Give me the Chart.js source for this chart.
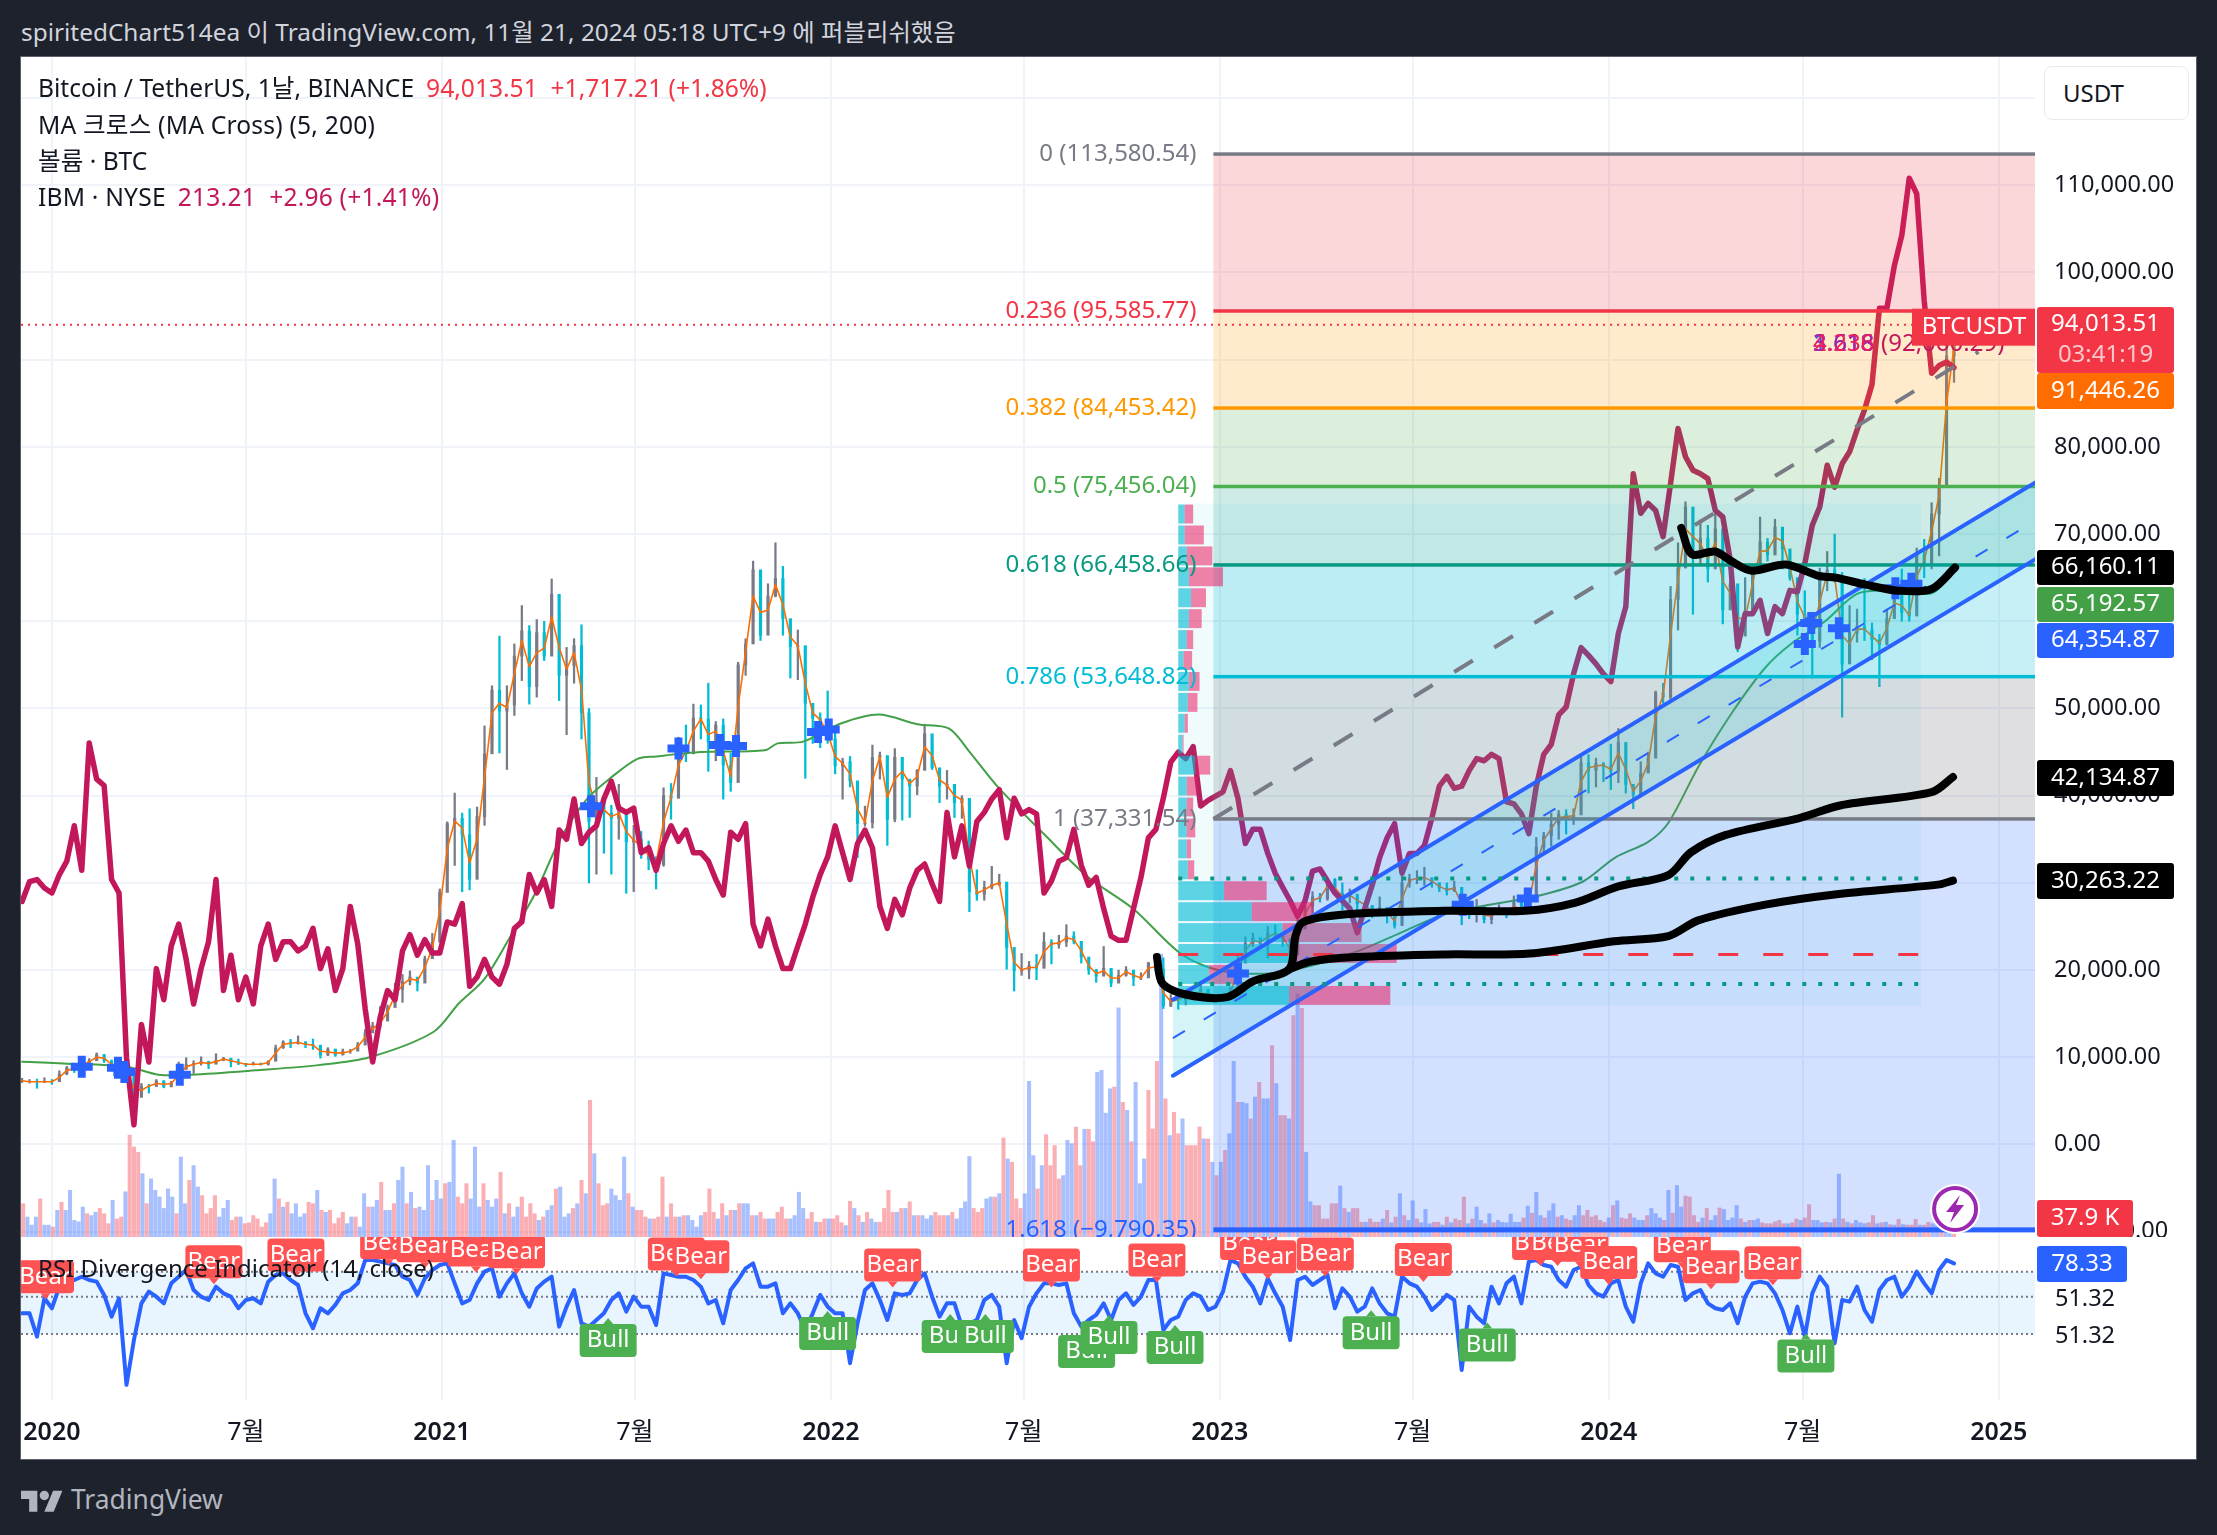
<!DOCTYPE html>
<html lang="ko">
<head>
<meta charset="UTF-8">
<title>BTCUSDT 1D</title>
<script src="https://cdn.jsdelivr.net/npm/chart.js"></script>
<style>
	html, body { margin: 0; padding: 0; background: #1e222d; }
	body { width: 2217px; height: 1535px; position: relative; overflow: hidden; font-family: "Noto Sans", "Noto Sans CJK KR", sans-serif; }
	#title { position: absolute; left: 21px; top: 14px; font-size: 24.4px; line-height: 36px; color: #d1d4dc; white-space: nowrap; }
	#panel { position: absolute; left: 21px; top: 57px; width: 2175px; height: 1402px; background: #fff; box-shadow: 0 0 0 1px #5d606b; }
	#priceCanvas { position: absolute; left: 21px; top: 57px; }
	#rsiCanvas { position: absolute; left: 21px; top: 1237px; }
	.legend { position: absolute; left: 38px; font-size: 24.6px; line-height: 36px; color: #131722; white-space: nowrap; }
	.legend b { font-weight: 400; margin-left: 12px; }
	#usdt { position: absolute; left: 2044px; top: 66px; width: 143px; height: 52px; border: 1px solid #e8eaf0; border-radius: 8px; background: #fff; font-size: 24px; line-height: 52px; color: #131722; text-indent: 18px; }
	#footer { position: absolute; left: 21px; top: 1483px; color: #b2b5be; font-size: 26.4px; line-height: 32px; }
	#footer svg { position: absolute; left: 0; top: 3px; }
	#footer span { position: absolute; left: 50px; top: 0; }
</style>
</head>
<body>
<div id="title">spiritedChart514ea 이 TradingView.com, 11월 21, 2024 05:18 UTC+9 에 퍼블리쉬했음</div>
<div id="panel"></div>
<canvas id="priceCanvas" width="2175" height="1180"></canvas>
<canvas id="rsiCanvas" width="2175" height="222"></canvas>
<div class="legend" style="top:70px">Bitcoin / TetherUS, 1날, BINANCE<b style="color:#f23645">94,013.51&nbsp; +1,717.21 (+1.86%)</b></div>
<div class="legend" style="top:107px;letter-spacing:.2px">MA 크로스 (MA Cross) (5, 200)</div>
<div class="legend" style="top:143px">볼륨 · BTC</div>
<div class="legend" style="top:179px;letter-spacing:.2px">IBM · NYSE<b style="color:#c2185b">213.21&nbsp; +2.96 (+1.41%)</b></div>
<div id="usdt">USDT</div>
<div id="footer">
	<svg width="42" height="26" viewBox="0 0 36 22" fill="#b2b5be"><path d="M14 22H7V11H0V4h14v18zM28 22h-8l7.5-18h8L28 22z"/><circle cx="20" cy="8" r="4"/></svg>
	<span>TradingView</span>
</div>

<script>
// x values are days counted from 2020-01-01, prices are in thousands of USDT
const tickDays = [0, 182, 366, 547, 731, 912, 1096, 1277, 1461, 1643, 1827];
const tickLabels = ['2020', '7월', '2021', '7월', '2022', '7월', '2023', '7월', '2024', '7월', '2025'];
const priceGrid = [120, 110, 100, 90, 80, 70, 60, 50, 40, 30, 20, 10, 0, -10];
const priceHidden = [120, 90, 60, 30];

// weekly samples
const btcClose = [
7.20,7.22,7.15,7.25,7.20,8.05,8.80,8.65,9.35,9.60,
10.30,9.60,8.80,8.75,7.90,5.40,6.70,6.65,7.30,6.65,
7.10,8.65,9.15,9.30,9.50,9.20,9.65,9.90,9.45,9.30,
9.15,9.25,9.20,9.55,11.10,11.75,11.55,11.75,11.45,11.40,
10.25,10.95,10.25,10.70,10.70,11.40,12.80,13.60,14.15,15.70,
17.80,18.70,19.20,18.50,21.30,23.20,28.90,36.80,37.40,35.50,
30.40,37.60,44.80,52.10,49.70,50.40,56.00,58.90,52.50,58.70,
56.00,63.10,53.80,54.90,57.20,49.50,37.00,39.30,38.00,37.40,
38.30,34.70,35.00,33.80,32.70,32.10,40.00,39.70,45.60,44.80,
48.90,48.80,46.10,48.10,43.50,41.50,55.00,57.40,65.90,58.40,
62.90,64.90,60.30,57.10,57.20,50.60,48.90,48.60,46.50,43.40,
43.90,41.70,36.80,36.90,44.40,44.60,37.30,44.40,41.90,41.10,
42.90,47.10,43.20,41.10,41.30,39.20,39.70,29.00,28.70,29.50,
29.80,30.10,22.60,19.90,20.00,20.50,20.20,23.20,22.90,23.20,
23.90,23.30,21.50,20.00,19.30,20.20,18.50,19.40,20.00,19.10,
19.10,20.80,20.10,15.90,16.70,16.60,17.20,16.80,17.80,16.80,
16.55,16.85,17.95,20.80,23.05,23.70,22.95,24.30,24.20,23.60,
21.70,24.70,27.30,28.40,28.20,30.40,28.80,28.40,28.70,27.60,
27.40,26.30,27.20,26.50,25.10,30.00,30.50,30.50,30.60,30.00,
29.40,29.10,29.50,26.50,26.30,27.30,25.80,26.50,27.00,26.50,
27.80,26.50,28.40,34.10,35.40,36.70,37.90,37.40,37.80,43.80,
42.90,43.70,43.40,42.80,46.10,41.30,40.10,42.60,44.30,51.80,
51.30,62.50,66.10,73.10,67.80,69.50,66.00,70.60,61.30,64.30,
58.30,61.20,66.20,69.10,67.60,70.80,68.30,65.00,60.80,60.20,
57.70,64.80,65.90,64.60,55.10,58.70,59.40,59.00,57.90,57.30,
60.30,63.10,61.00,60.60,67.60,66.60,72.30,75.60,90.40,94.01351];

const btcHigh = [
7.60,7.45,7.50,7.65,7.45,8.45,8.95,8.95,9.60,9.85,
10.50,10.30,9.70,9.20,8.20,8.00,7.00,6.90,7.45,7.30,
7.25,9.45,9.95,9.60,10.05,9.55,10.40,10.00,9.60,9.80,
9.30,9.45,9.35,9.60,11.40,11.90,12.05,12.45,11.80,12.10,
10.50,11.10,10.90,10.95,10.90,11.70,13.20,14.00,15.80,16.00,
18.50,19.50,19.90,19.00,21.60,24.20,29.30,37.00,40.30,38.00,
38.50,38.70,48.00,52.60,58.30,52.60,57.40,61.80,59.50,60.20,
60.00,64.85,61.00,57.00,58.00,59.60,50.00,42.10,39.50,38.90,
41.30,36.00,36.60,35.90,34.80,33.00,40.90,41.40,46.70,48.10,
50.50,50.40,52.90,48.50,48.80,44.90,55.30,58.00,66.90,63.70,
64.30,69.00,66.30,59.50,59.00,53.00,50.50,49.50,52.00,47.50,
44.30,44.50,38.90,38.80,45.80,45.00,40.50,45.40,42.60,41.70,
43.00,48.20,46.00,43.00,42.90,41.00,40.00,36.00,31.50,30.20,
31.90,31.00,29.00,21.60,21.90,21.00,21.80,24.30,23.50,24.00,
25.20,24.40,21.90,20.80,20.10,22.70,19.70,20.00,20.40,19.30,
19.70,20.90,20.80,21.40,17.20,16.70,17.30,17.40,18.40,16.95,
16.80,16.95,18.00,21.60,23.80,24.25,23.40,25.00,25.20,24.00,
22.60,26.50,28.80,29.00,28.80,30.60,30.50,30.00,29.30,28.30,
27.50,27.40,28.40,27.10,26.20,30.80,31.00,31.40,31.80,30.40,
30.00,30.00,30.20,29.30,26.80,28.10,26.10,27.00,27.50,26.80,
28.50,28.00,28.60,35.20,35.80,38.00,38.30,38.40,38.50,44.40,
44.70,44.30,43.80,45.90,47.70,43.50,41.00,43.90,45.00,52.00,
52.90,64.00,69.00,73.70,68.00,71.60,71.00,72.80,66.00,67.30,
63.50,65.00,66.50,71.95,69.50,71.70,70.00,67.00,62.50,63.50,
58.80,66.10,68.00,70.00,65.60,61.80,61.40,64.90,59.80,58.50,
61.40,64.80,66.00,64.50,68.40,69.40,73.60,76.40,93.30,94.90];

const btcLow = [
7.10,7.05,6.45,7.10,6.90,7.70,8.00,8.25,8.60,9.10,
9.70,9.40,8.50,8.40,7.60,3.80,5.70,5.90,6.70,6.50,
6.60,7.10,8.60,8.15,9.10,8.70,9.30,9.60,8.90,9.15,
8.95,9.10,9.10,9.10,9.60,11.00,11.10,11.50,11.10,10.90,
9.90,10.20,10.10,10.50,10.45,11.20,11.85,12.90,13.30,14.80,
16.00,16.30,18.30,17.60,19.30,22.00,26.80,31.00,32.00,29.00,
29.20,33.50,36.60,46.00,44.90,43.00,49.20,53.20,50.50,51.30,
55.50,58.00,50.90,47.00,52.90,46.50,30.00,31.00,33.40,31.00,
35.00,28.80,29.00,32.80,31.50,29.30,31.90,37.30,39.90,43.90,
46.40,46.50,42.80,44.00,39.60,40.50,42.80,53.80,59.90,57.80,
59.50,62.80,58.40,53.50,53.30,42.00,46.00,45.50,46.00,42.50,
39.60,41.00,32.90,36.50,36.30,41.90,34.30,37.00,37.20,37.50,
40.10,44.20,43.00,39.20,39.60,37.50,37.40,26.70,28.00,28.00,
29.30,29.70,20.10,17.60,19.40,19.00,18.90,20.50,20.70,22.50,
22.70,23.00,20.80,19.50,18.60,19.60,18.10,18.60,19.30,18.20,
18.90,19.90,19.90,15.60,15.80,15.50,16.00,16.70,17.20,16.40,
16.30,16.50,16.90,17.90,22.30,22.70,22.70,21.40,23.60,22.70,
19.60,23.90,26.60,26.60,27.80,28.00,28.70,26.90,27.70,26.80,
26.50,26.00,26.70,25.40,24.80,26.50,29.50,29.90,29.70,29.50,
29.00,28.60,29.00,25.20,25.90,25.50,25.40,25.30,26.40,26.00,
27.00,26.50,26.70,30.00,33.40,34.20,35.00,35.60,36.70,38.50,
40.30,41.00,41.60,40.70,41.50,40.30,38.50,41.60,42.70,48.50,
50.60,51.00,59.00,68.50,60.80,66.40,64.50,68.00,59.70,62.80,
56.50,60.70,61.00,66.70,66.90,68.50,66.00,64.70,58.40,59.60,
53.50,57.00,63.50,64.50,49.00,56.00,57.60,57.80,55.60,52.50,
57.50,61.50,60.00,60.00,62.00,65.00,66.00,67.50,76.70,87.40];

const ma5Values = [
7.3,7.2,7.2,7.2,7.2,7.7,8.5,8.7,9.1,9.5,
10.0,9.9,9.2,8.8,8.2,6.5,6.2,6.7,7.0,6.9,
7.0,8.0,8.9,9.2,9.4,9.3,9.5,9.8,9.6,9.4,
9.2,9.2,9.2,9.4,10.5,11.5,11.6,11.7,11.5,11.4,
10.7,10.6,10.5,10.5,10.7,11.2,12.3,13.3,13.9,15.2,
17.1,18.3,19.0,18.8,20.3,22.5,26.8,33.9,37.1,36.3,
32.3,35.0,42.1,49.5,50.6,50.1,54.0,57.8,54.8,56.4,
56.9,60.5,57.0,54.5,56.4,52.2,41.5,38.5,38.4,37.6,
38.0,35.9,34.9,34.2,33.1,32.3,37.0,39.8,43.5,45.1,
47.4,48.8,47.0,47.4,45.1,42.2,50.2,56.5,62.9,61.0,
61.3,64.2,61.9,58.2,57.2,52.9,49.5,48.7,47.2,44.5,
43.7,42.5,38.5,36.9,41.7,44.5,39.8,41.9,42.8,41.4,
42.2,45.6,44.6,41.8,41.2,40.0,39.5,32.8,28.8,29.2,
29.7,30.0,25.3,20.9,20.0,20.3,20.3,22.1,23.0,23.1,
23.7,23.5,22.2,20.5,19.6,19.9,19.1,19.1,19.8,19.4,
19.1,20.2,20.4,17.4,16.4,16.6,17.0,17.0,17.4,17.2,
16.6,16.7,17.5,19.8,22.2,23.4,23.2,23.8,24.2,23.8,
22.4,23.6,26.4,28.0,28.3,29.6,29.4,28.5,28.6,28.0,
27.5,26.7,26.9,26.7,25.6,28.2,30.3,30.5,30.6,30.2,
29.6,29.2,29.4,27.6,26.4,26.9,26.3,26.2,26.8,26.7,
27.3,27.0,27.7,32.0,34.9,36.2,37.5,37.6,37.7,41.6,
43.2,43.4,43.5,43.0,44.9,43.0,40.5,41.7,43.7,49.1,
51.5,58.4,64.8,70.6,69.7,68.9,67.2,69.0,64.6,63.2,
60.4,60.2,64.4,68.0,68.1,69.6,69.2,66.2,62.3,60.4,
58.6,62.2,65.5,65.1,58.4,57.4,59.1,59.1,58.3,57.5,
59.2,62.1,61.8,60.7,65.1,67.0,70.3,74.4,85.0,91.44626];

// IBM in USD, on its own hidden scale
const ibmClose = [
137.7,140.5,140.8,139.6,138.9,141.5,143.4,148.4,142.1,160.1,
155,154.1,140.8,138.9,115.6,106.1,120.3,115,128.2,123.8,
131.4,134.5,129.5,123.2,128.2,132,140.8,125.1,130.1,123.8,
127,123.2,131.4,134.5,129.5,132,132,130.7,131.4,133.9,
128.2,131,125.1,128.2,137,131.7,122.5,115,121.3,125.1,
123.8,130.7,133,130.1,132.3,130.4,130.4,134.8,134.5,137.4,
125.7,127,129.5,127,126,128.8,133.9,134.8,141.5,138.9,
140.8,137,147.8,146.5,152.2,145.9,147.5,148.4,152.2,154.7,
150.9,150.3,150.9,144.6,145.3,142.1,145.9,148.4,146.2,147.8,
144.6,144.6,143.4,140.8,138.6,147.5,146.5,148.7,134.5,131.4,
135.2,131.4,128.2,128.2,131.4,134.5,138.3,141.5,144,148.4,
144.6,140.8,145.9,147.8,145.3,137,133.9,138,135.8,139.6,
142.1,143,140.2,137.7,150.3,144,148.4,142.7,149,150.3,
152.2,153.5,146.7,152.3,150.1,150.7,150.1,138.9,140.6,143.4,
143.9,147.9,142.8,140,141.1,136.7,132.8,132.2,132.2,136.7,
141.1,146.7,147.9,152.3,157.4,158.8,157.9,159.6,151.2,152,
152.6,153.2,156.2,152.3,145.9,147.9,147.9,144.5,141.7,139.7,
137.8,135.6,137.8,142,142.3,140.6,138.9,137.8,136.7,133.3,
136.7,140,143.9,146.7,148.7,141.7,144.5,144.5,145.6,149.5,
154,155.4,153.7,154,156.2,157.9,157.6,158.5,157.9,151.8,
151.5,150.1,147.3,154,158.5,159.9,164.1,165.2,169.9,173.6,
172.5,171.3,169.9,168.8,175.6,179.4,198.2,192.6,194,193,
189.3,196.8,204.6,200.6,198.7,198.2,197.5,193,192.1,186,
173.7,178.4,178.4,180.3,175.6,179.4,178.4,181.7,181.5,185.5,
190.9,193.5,199.4,196.3,199.6,201.3,204.4,207.2,210.8,221.6,
221.6,227.6,231.9,240,237.8,222.7,212.4,213.5,214,213.21];

const rsiValues = [
37.8,37.8,18.9,50,41.9,59.4,64.8,64.8,67.5,64.8,
63.5,52.7,35.1,50,-20.2,16.2,45.9,55.4,51.3,45.9,
62.1,67.5,72.9,56.7,51.3,48.6,59.4,54,51.3,41.9,
48.6,50,45.9,63.5,68.9,70.2,64.8,60.8,37.8,25.7,
41.9,37.8,44.6,54,56.7,62.1,81,81,79.7,78.3,
77,67.5,64.8,52.7,66.2,72.9,77,78.3,62.1,45.9,
48.6,62.1,71.6,74.3,51.3,62.1,70.2,54,43.2,58,
63.5,67.5,27,43.2,56.7,29.7,27,32.4,37.8,48.6,
54,39.2,51.3,43.2,43.2,28.3,70.2,68.9,67.5,67.5,
64.8,59.4,45.9,48.6,29.7,56.7,64.8,74.3,78.3,59.4,
59.4,62.1,37.8,45.9,37.8,24.3,37.8,52.7,43.2,37.8,
37.8,-2.7,29.7,56.7,62.1,48.6,32.4,54,52.7,54,
64.8,70.2,51.3,35.1,45.9,45.9,27,29.7,32.4,48.6,
52.7,43.2,-2.7,32.4,17.6,43.2,54,62.1,62.1,60.8,
62.1,37.8,27,32.4,36.5,45.9,32.4,48.6,54,44.6,
51.3,64.8,64.8,24.3,32.4,35.1,48.6,54,51.3,40.5,
43.2,55.4,81,78.3,67.5,59.4,45.9,66.2,54,43.2,
16.2,64.8,67.5,60.8,64.8,68.9,41.9,58,51.3,39.2,
43.2,58,45.9,37.8,35.1,67.5,62.1,59.4,51.3,40.5,
45.9,52.7,48.6,-8.1,43.2,35.1,29.7,59.4,45.9,62.1,
67.5,45.9,79.7,81,77,75.6,64.8,59.4,72.9,75.6,
60.8,54,51.3,62.1,64.8,43.2,31,62.1,78.3,70.2,
67.5,77,75.6,48.6,54,56.7,45.9,41.9,40.5,45.9,
29.7,51.3,62.1,63.5,62.1,54,40.5,21.6,43.2,18.9,
54,67.5,59.4,13.5,48.6,47.3,59.4,40.5,31,56.7,
64.8,67.5,51.3,59.4,71.6,62.1,54,72.9,81,78.33];

// volume in thousands of BTC, one sample every four days
const volumeValues = [
70,42,25,42,80,25,25,21,56,73,56,98,35,32,63,49,45,52,60,49,
28,77,38,42,95,214,189,178,133,70,122,98,84,60,101,84,49,168,70,119,
150,105,87,49,60,87,42,60,77,35,42,42,28,30,45,38,21,30,49,122,
80,63,73,49,70,42,49,73,70,98,56,52,56,28,40,52,28,42,42,21,
91,63,63,77,115,56,56,70,119,147,70,94,60,63,56,150,77,119,80,112,
115,203,84,70,112,80,189,63,112,77,63,80,136,49,70,42,63,84,42,70,
49,35,42,56,66,101,105,42,49,60,70,119,91,287,175,112,66,70,101,87,
77,168,91,63,56,56,42,38,38,42,126,42,70,42,42,45,45,35,21,45,
52,101,52,38,70,45,56,56,70,70,70,45,45,52,38,38,38,52,63,38,
38,45,94,60,38,52,31,31,38,38,38,45,30,24,75,60,45,31,52,38,
31,31,60,98,52,52,60,60,74,45,45,45,38,45,52,45,45,45,52,38,
60,74,169,60,52,60,80,84,84,91,208,164,157,80,60,91,327,171,101,150,
215,150,192,122,129,203,196,231,150,226,226,200,346,350,260,311,315,481,283,266,
200,325,112,164,308,227,369,594,290,213,262,217,248,192,192,192,231,206,206,157,
129,157,182,217,369,283,283,280,248,294,325,290,290,402,322,255,255,248,465,510,
480,178,74,66,66,38,38,70,70,107,60,52,60,60,31,31,38,31,31,38,
56,30,42,91,45,35,76,38,30,58,28,31,31,25,42,30,38,35,84,28,
38,63,35,28,49,30,35,31,30,48,31,31,40,65,50,94,45,40,55,70,
42,45,38,35,45,66,45,56,42,45,35,31,40,66,76,40,38,49,40,35,
35,45,60,49,40,35,98,50,108,63,86,84,45,31,40,60,35,45,61,58,
35,40,66,38,31,35,35,38,30,28,28,32,35,28,28,30,38,35,40,68,
35,35,30,31,30,38,132,38,31,28,35,30,28,30,45,28,30,31,26,25,
37,26,25,25,37,25,25,31,28,25,30,30,28,37.9];

const ma200Days = [-28,11,71,100,131,191,250,298,358,382,406,430,454,477,502,525,549,567,609,669,681,705,741,776,812,842,860,887,931,972,1015,1057,1086,1119,1161,1224,1266,1307,1349,1391,1436,1467,1498,1517,1545,1576,1608,1632,1664,1695,1733,1764,1782];
const ma200Values = [9.5,9.3,8.9,8.0,8.0,8.5,9.1,10,12.9,16.2,19,23.8,28.9,35,39.6,42.1,44.2,44.5,45,45.2,46,46.2,48.3,49.3,48.2,47.7,45.2,41.1,35.6,30.7,27,22.1,20.3,19.6,19.9,22.1,24.3,26.4,27.5,28.4,30.1,32.9,34.7,36.9,43.3,49.4,54.7,57.4,60,63.2,63.5,63.2,65.19257];

const crossDays = [28,62,68,120,506,588,627,642,719,729,1113,1324,1385,1645,1651,1677,1730,1745];
const crossValues = [8.9,8.8,8.3,8.0,38.8,45.4,45.8,45.7,47.3,47.6,19.6,27.5,28.2,57.4,59.8,59.2,63.8,64.3];

const blackTopDays = [1529,1539,1561,1576,1595,1627,1658,1674,1702,1733,1764,1786];
const blackTopValues = [70.7,67.7,68,66.9,65.8,66.5,65.2,65,64.2,63.5,63.7,66.16011];
const blackMidDays = [1037,1042,1064,1103,1127,1161,1167,1174,1215,1307,1383,1429,1470,1517,1538,1571,1639,1679,1764,1784];
const blackMidValues = [21.5,18.5,17.2,16.9,18.7,20.1,23.9,25.5,26.4,26.8,26.8,27.7,29.6,30.9,33.5,35.5,37.4,38.9,40.4,42.13487];
const blackLowDays = [1161,1182,1224,1307,1387,1466,1517,1545,1608,1675,1770,1784];
const blackLowValues = [20.1,21,21.5,21.8,21.9,23.3,23.9,25.7,27.5,28.7,29.8,30.26322];

// regression channel and the fib trend line, end points only
const channelDays = [1052, 1861];
const channelUpper = [16.6, 75.9];
const channelMiddle = [12.2, 71.5];
const channelLower = [7.88, 67.1];
const trendDays = [1090, 1808];
const trendValues = [37.33154, 90.9];

const fibLevels = [0, 0.236, 0.382, 0.5, 0.618, 0.786, 1, 1.618];
const fibPrices = [113.58054, 95.58577, 84.45342, 75.45604, 66.45866, 53.64882, 37.33154, -9.79035];
const fibStartDay = 1090;
const fibLabels = ['0 (113,580.54)', '0.236 (95,585.77)', '0.382 (84,453.42)', '0.5 (75,456.04)', '0.618 (66,458.66)', '0.786 (53,648.82)', '1 (37,331.54)', '1.618 (−9,790.35)'];
const fibLineColors = ['#787b86', '#f23645', '#ff9800', '#4caf50', '#089981', '#00bcd4', '#787b86', '#2962ff'];
const fibLineWidths = [3.5, 3.5, 3.5, 3.5, 3.5, 3.5, 3.5, 5];
const fibBandColors = ['rgba(242,54,69,.2)', 'rgba(255,152,0,.2)', 'rgba(76,175,80,.2)', 'rgba(8,153,129,.2)', 'rgba(0,188,212,.22)', 'rgba(120,123,134,.24)', 'rgba(41,98,255,.2)'];

// fixed range volume profile, rows from the top of the range down
const profileStartDay = 1057;
const profileEndDay = 1754;
const profileTop = 73.5;
const profileRowSize = 2.4;
const profileUp = [6,6,8,10,12,10,8,5,10,9,6,4,16,8,8,8,8,9,43,69,98,104,29,104];
const profileDown = [8,18,24,32,14,12,6,8,10,9,3,1,14,10,6,8,4,6,40,58,74,101,25,95];
const profileHigh = 30.5;
const profileLow = 18.4;
const profilePoc = 21.8;

// RSI pane
const rsiBands = [71.6, 51.32, 21.05];
const bearDays = [-6,152,229,316,350,398,436,586,609,789,938,1037,1123,1141,1195,1287,1397,1413,1434,1461,1530,1557,1615];
const bearValues = [67.5,79.7,85,95,92.6,89.1,87.8,85.9,83.7,77,77,81,94.5,83.7,85.9,81.5,94.5,94.5,93.1,79.1,92.6,75.6,78.8];
const bullDays = [522,728,843,876,971,992,1054,1238,1347,1646];
const bullValues = [15.7,21.4,18.9,18.9,6.8,18.1,10,22.1,12.2,3.2];

const basisPrice = 64.35487;
const lastVolumeText = '37.9 K';

const weekDays = btcClose.map((_, i) => -28 + 7 * i);
const volumeDays = volumeValues.map((_, i) => -27 + 4 * i);
const pairs = (xs, ys) => xs.map((x, i) => ({ x: x, y: ys[i] }));
const last = arr => arr[arr.length - 1];
const money = k => (k * 1000).toLocaleString('en-US', { minimumFractionDigits: 2, maximumFractionDigits: 2 });

const FONT = '"Noto Sans", "Noto Sans CJK KR", sans-serif';
const CANDLE_UP = '#787b86';
const CANDLE_DOWN = '#00bcd4';

// the library reserves room for half a tick label at the ends, the panes here run edge to edge
function noScalePadding(s) {
	s.paddingLeft = s.paddingRight = s.paddingTop = s.paddingBottom = 0;
}

function weekRising(i) {
	return i === 0 || btcClose[i] >= btcClose[i - 1];
}

// bars follow the direction of their week, every third one goes against it like the daily bars do
function volumeColor(ctx) {
	const wk = Math.max(0, Math.min(btcClose.length - 1, Math.round((volumeDays[ctx.dataIndex] + 28) / 7)));
	const up = ctx.dataIndex % 3 === 0 ? !weekRising(wk) : weekRising(wk);
	return up ? 'rgba(41,98,255,.4)' : 'rgba(242,54,69,.4)';
}

function drawTag(c, text, x, top, w, h, color, textColor) {
	c.fillStyle = color;
	c.beginPath();
	c.roundRect(x, top, w, h, 3);
	c.fill();
	c.fillStyle = textColor || '#fff';
	c.font = '24px ' + FONT;
	c.textAlign = 'center';
	c.textBaseline = 'middle';
	c.fillText(text, x + w / 2, top + h / 2);
}

// everything in here sits on top of the price lines but below the channel
function drawFibAndProfile(chart) {
	const c = chart.ctx;
	const xs = chart.scales.x, ys = chart.scales.y;
	const area = chart.chartArea;
	const left = xs.getPixelForValue(fibStartDay);
	c.save();
	c.beginPath();
	c.rect(area.left, area.top, area.right - area.left, area.bottom - area.top);
	c.clip();

	for (let i = 0; i < fibBandColors.length; i++) {
		const y0 = ys.getPixelForValue(fibPrices[i]);
		const y1 = ys.getPixelForValue(fibPrices[i + 1]);
		c.fillStyle = fibBandColors[i];
		c.fillRect(left, y0, area.right - left, y1 - y0);
	}

	// profile background, then rows
	const pLeft = xs.getPixelForValue(profileStartDay);
	const pRight = xs.getPixelForValue(profileEndDay);
	const pTop = ys.getPixelForValue(profileTop);
	const pBottom = ys.getPixelForValue(profileTop - profileRowSize * profileUp.length);
	c.fillStyle = 'rgba(0,188,212,.06)';
	c.fillRect(pLeft, pTop, pRight - pLeft, pBottom - pTop);
	profileUp.forEach((up, i) => {
		const y0 = ys.getPixelForValue(profileTop - profileRowSize * i) + 1;
		const y1 = ys.getPixelForValue(profileTop - profileRowSize * (i + 1)) - 1;
		const xUp = xs.getPixelForValue(profileStartDay + up);
		const xDown = xs.getPixelForValue(profileStartDay + up + profileDown[i]);
		c.fillStyle = 'rgba(0,188,212,.62)';
		c.fillRect(pLeft, y0, xUp - pLeft, y1 - y0);
		c.fillStyle = 'rgba(233,30,99,.55)';
		c.fillRect(xUp, y0, xDown - xUp, y1 - y0);
	});

	fibPrices.forEach((p, i) => {
		const y = ys.getPixelForValue(p);
		c.fillStyle = fibLineColors[i];
		c.fillRect(left, y - fibLineWidths[i] / 2, area.right - left, fibLineWidths[i]);
	});
	c.restore();
}

function drawPriceTexts(chart) {
	const c = chart.ctx;
	const ys = chart.scales.y, xs = chart.scales.x;
	const right = chart.chartArea.right;
	c.save();

	// fib labels left of the retracement
	c.font = '24px ' + FONT;
	c.textAlign = 'right';
	c.textBaseline = 'middle';
	fibLabels.forEach((t, i) => {
		c.fillStyle = fibLineColors[i];
		c.fillText(t, xs.getPixelForValue(fibStartDay) - 17, ys.getPixelForValue(fibPrices[i]));
	});

	// extension labels piled on the same price
	c.textAlign = 'left';
	const pile = [['1.618', '#2962ff'], ['2.618', '#f23645'], ['3.618', '#9c27b0'], ['4.236', '#e91e63']];
	const pileY = ys.getPixelForValue(91.8);
	pile.forEach(p => {
		c.fillStyle = p[1];
		c.fillText(p[0], right - 222, pileY);
	});
	c.fillStyle = '#c2185b';
	c.fillText('(92,060.29)', right - 154, pileY);

	// symbol tag at the chart edge
	const tagTop = ys.getPixelForValue(last(btcClose)) - 16;
	c.fillStyle = '#f23645';
	c.fillRect(right - 123, tagTop, 123, 37);
	c.fillStyle = '#fff';
	c.font = '24px ' + FONT;
	c.textAlign = 'center';
	c.fillText('BTCUSDT', right - 61, tagTop + 18);

	// price tags on the axis
	const tx = right + 2, tw = 137;
	drawTag(c, money(last(blackMidValues)), tx, 703, tw, 36, '#000');
	drawTag(c, money(last(blackLowValues)), tx, 806, tw, 36, '#000');
	c.fillStyle = '#f23645';
	c.beginPath();
	c.roundRect(tx, 250, tw, 66, 3);
	c.fill();
	c.fillStyle = '#fff';
	c.font = '24px ' + FONT;
	c.textAlign = 'center';
	c.fillText(money(last(btcClose)), tx + tw / 2, 267);
	c.fillStyle = 'rgba(255,255,255,.72)';
	c.fillText('03:41:19', tx + tw / 2, 298);
	drawTag(c, money(last(ma5Values)), tx, 316, tw, 36, '#ff6d00');
	drawTag(c, money(last(blackTopValues)), tx, 493, tw, 35, '#000');
	drawTag(c, money(last(ma200Values)), tx, 530, tw, 35, '#43a047');
	drawTag(c, money(basisPrice), tx, 566, tw, 35, '#2962ff');
	drawTag(c, lastVolumeText, tx, 1143, 96, 37, '#f23645');

	// earnings marker
	const bx = xs.getPixelForValue(1786), by = chart.chartArea.bottom - 28;
	c.beginPath();
	c.arc(bx, by, 25, 0, Math.PI * 2);
	c.fillStyle = '#fff';
	c.fill();
	c.beginPath();
	c.arc(bx, by, 21, 0, Math.PI * 2);
	c.lineWidth = 4;
	c.strokeStyle = '#9c27b0';
	c.stroke();
	c.fillStyle = '#9c27b0';
	c.beginPath();
	c.moveTo(bx + 5, by - 14);
	c.lineTo(bx - 9, by + 3);
	c.lineTo(bx - 1, by + 3);
	c.lineTo(bx - 5, by + 14);
	c.lineTo(bx + 9, by - 4);
	c.lineTo(bx + 1, by - 4);
	c.closePath();
	c.fill();
	c.restore();
}

const pricePlugin = {
	id: 'priceDrawings',
	afterDatasetDraw(chart, args) {
		if (chart.data.datasets[args.index].label === 'IBM') drawFibAndProfile(chart);
	},
	afterDraw(chart) {
		drawPriceTexts(chart);
	}
};

const lineBase = { type: 'line', pointRadius: 0, fill: false, borderJoinStyle: 'round', borderCapStyle: 'round' };

const candleDatasets = [
	{
		type: 'bar', label: 'wicks', order: 80, grouped: false, barThickness: 1.6, yAxisID: 'y',
		data: btcLow.map((lo, i) => [lo, btcHigh[i]]),
		backgroundColor: btcClose.map((_, i) => weekRising(i) ? CANDLE_UP : CANDLE_DOWN)
	},
	{
		type: 'bar', label: 'bodies', order: 79, grouped: false, barThickness: 2.5, yAxisID: 'y',
		data: btcClose.map((v, i) => [i ? btcClose[i - 1] : v, v]),
		backgroundColor: btcClose.map((_, i) => weekRising(i) ? CANDLE_UP : CANDLE_DOWN)
	}
];

new Chart(document.getElementById('priceCanvas'), {
	data: {
		labels: weekDays,
		datasets: [
			{
				type: 'bar', label: 'volume', order: 90, grouped: false, barThickness: 3.4, yAxisID: 'yVol',
				data: pairs(volumeDays, volumeValues),
				backgroundColor: volumeColor
			},
			...candleDatasets,
			{ ...lineBase, label: 'MA 5', order: 78, data: ma5Values, borderColor: '#ff6d00', borderWidth: 1.6 },
			{ ...lineBase, label: 'MA 200', order: 77, data: pairs(ma200Days, ma200Values), borderColor: '#43a047', borderWidth: 2, tension: 0.3 },
			{ ...lineBase, label: 'IBM', order: 76, yAxisID: 'yIbm', data: ibmClose, borderColor: '#c2185b', borderWidth: 5.5 },
			{ ...lineBase, label: 'channel upper', order: 60, data: pairs(channelDays, channelUpper), borderColor: '#2962ff', borderWidth: 4, fill: { target: '+1', above: 'rgba(0,188,212,.17)', below: 'rgba(0,188,212,.17)' } },
			{ ...lineBase, label: 'channel lower', order: 59, data: pairs(channelDays, channelLower), borderColor: '#2962ff', borderWidth: 4 },
			{ ...lineBase, label: 'channel middle', order: 58, data: pairs(channelDays, channelMiddle), borderColor: '#2962ff', borderWidth: 2, borderDash: [14, 22], borderCapStyle: 'butt' },
			{ ...lineBase, label: 'fib trend', order: 57, data: pairs(trendDays, trendValues), borderColor: '#787b86', borderWidth: 4, borderDash: [22, 25], borderCapStyle: 'butt' },
			{ ...lineBase, label: 'last price', order: 56, data: pairs([-29, 1861], [last(btcClose), last(btcClose)]), borderColor: '#f23645', borderWidth: 2, borderDash: [2, 5], borderCapStyle: 'butt' },
			{ ...lineBase, label: 'profile high', order: 55, data: pairs([profileStartDay, profileEndDay], [profileHigh, profileHigh]), borderColor: '#089981', borderWidth: 4, borderDash: [4, 12], borderCapStyle: 'butt' },
			{ ...lineBase, label: 'profile low', order: 55, data: pairs([profileStartDay, profileEndDay], [profileLow, profileLow]), borderColor: '#089981', borderWidth: 4, borderDash: [4, 12], borderCapStyle: 'butt' },
			{ ...lineBase, label: 'profile poc', order: 55, data: pairs([profileStartDay, profileEndDay], [profilePoc, profilePoc]), borderColor: '#f23645', borderWidth: 3, borderDash: [20, 25], borderCapStyle: 'butt' },
			{
				type: 'line', label: 'ma crosses', order: 50, showLine: false, data: pairs(crossDays, crossValues),
				pointStyle: 'cross', pointRadius: 11, pointBorderWidth: 8, pointBorderColor: '#2962ff', pointBackgroundColor: '#2962ff'
			},
			{ ...lineBase, label: 'ma black 1', order: 40, data: pairs(blackTopDays, blackTopValues), borderColor: '#000', borderWidth: 8, tension: 0.3 },
			{ ...lineBase, label: 'ma black 2', order: 39, data: pairs(blackMidDays, blackMidValues), borderColor: '#000', borderWidth: 8, tension: 0.3 },
			{ ...lineBase, label: 'ma black 3', order: 38, data: pairs(blackLowDays, blackLowValues), borderColor: '#000', borderWidth: 8, tension: 0.3 }
		]
	},
	options: {
		responsive: false,
		animation: false,
		events: [],
		layout: { padding: 0, autoPadding: false },
		plugins: { legend: { display: false }, tooltip: { enabled: false } },
		scales: {
			x: {
				type: 'linear', min: -29, max: 1861, offset: false,
				afterBuildTicks: s => { s.ticks = tickDays.map(v => ({ value: v })); },
				afterFit: s => { s.height = 0; noScalePadding(s); },
				ticks: { display: false },
				grid: { color: '#f0f3fa', lineWidth: 2, tickLength: 0, offset: false },
				border: { display: false }
			},
			y: {
				position: 'right', min: -10.61, max: 124.71,
				afterBuildTicks: s => { s.ticks = priceGrid.map(v => ({ value: v })); },
				afterFit: s => { s.width = 161; noScalePadding(s); },
				ticks: {
					padding: 19, color: '#131722', font: { family: FONT, size: 23.5 },
					callback: v => priceHidden.includes(v) ? '' : money(v)
				},
				grid: { color: '#f0f3fa', lineWidth: 2, tickLength: 0 },
				border: { display: false }
			},
			yIbm: { display: false, min: 90.24, max: 257.14 },
			yVol: { display: false, min: 0, max: 2478 }
		}
	},
	plugins: [pricePlugin]
});

// RSI pane with the same x range
function drawSignal(c, x, y, text, color, pointerUp) {
	const w = 57, h = 33;
	c.fillStyle = color;
	c.beginPath();
	c.roundRect(x - w / 2, y - h / 2, w, h, 4);
	c.fill();
	c.beginPath();
	if (pointerUp) {
		c.moveTo(x - 5, y - h / 2); c.lineTo(x, y - h / 2 - 6); c.lineTo(x + 5, y - h / 2);
	} else {
		c.moveTo(x - 5, y + h / 2); c.lineTo(x, y + h / 2 + 6); c.lineTo(x + 5, y + h / 2);
	}
	c.fill();
	c.fillStyle = '#fff';
	c.fillText(text, x, y);
}

const rsiPlugin = {
	id: 'rsiDrawings',
	beforeDatasetsDraw(chart) {
		const c = chart.ctx, ys = chart.scales.y, a = chart.chartArea;
		c.save();
		const top = ys.getPixelForValue(rsiBands[0]), bottom = ys.getPixelForValue(rsiBands[2]);
		c.fillStyle = 'rgba(33,150,243,.1)';
		c.fillRect(a.left, top, a.right - a.left, bottom - top);
		c.strokeStyle = '#787b86';
		c.lineWidth = 2;
		c.setLineDash([2, 3]);
		rsiBands.forEach(v => {
			const y = ys.getPixelForValue(v);
			c.beginPath();
			c.moveTo(a.left, y);
			c.lineTo(a.right, y);
			c.stroke();
		});
		c.restore();
	},
	afterDatasetsDraw(chart) {
		const c = chart.ctx, xs = chart.scales.x, ys = chart.scales.y;
		c.save();
		c.font = '24px ' + FONT;
		c.textAlign = 'center';
		c.textBaseline = 'middle';
		bearDays.forEach((d, i) => drawSignal(c, xs.getPixelForValue(d), ys.getPixelForValue(bearValues[i]), 'Bear', '#ff5252', false));
		bullDays.forEach((d, i) => drawSignal(c, xs.getPixelForValue(d), ys.getPixelForValue(bullValues[i]), 'Bull', '#4caf50', true));
		c.textAlign = 'left';
		c.fillStyle = '#131722';
		c.font = '24px ' + FONT;
		c.fillText('RSI Divergence Indicator (14, close)', 17, 33);
		c.restore();
	},
	afterDraw(chart) {
		const c = chart.ctx, a = chart.chartArea, ys = chart.scales.y;
		c.save();
		drawTag(c, last(rsiValues).toFixed(2), a.right + 2, 9, 90, 36, '#2962ff');
		c.fillStyle = '#131722';
		c.font = '23.5px ' + FONT;
		c.textAlign = 'center';
		c.textBaseline = 'middle';
		c.fillText(rsiBands[1].toFixed(2), a.right + 50, ys.getPixelForValue(rsiBands[1]) + 3);
		c.fillText(rsiBands[1].toFixed(2), a.right + 50, ys.getPixelForValue(rsiBands[2]) + 2);
		c.restore();
	}
};

new Chart(document.getElementById('rsiCanvas'), {
	data: {
		labels: weekDays,
		datasets: [
			{ ...lineBase, label: 'RSI', data: rsiValues, borderColor: '#2962ff', borderWidth: 4 }
		]
	},
	options: {
		responsive: false,
		animation: false,
		events: [],
		layout: { padding: 0, autoPadding: false },
		plugins: { legend: { display: false }, tooltip: { enabled: false } },
		scales: {
			x: {
				type: 'linear', min: -29, max: 1861,
				afterBuildTicks: s => { s.ticks = tickDays.map(v => ({ value: v })); },
				afterFit: s => { s.height = 59; noScalePadding(s); },
				ticks: {
					padding: 18, color: '#131722', maxRotation: 0, autoSkip: false,
					font: ctx => ({ family: FONT, size: 25, weight: tickLabels[ctx.index] === '7월' ? 400 : 600 }),
					callback: (v, i) => tickLabels[i]
				},
				grid: { color: '#f0f3fa', lineWidth: 2, tickLength: 0 },
				border: { display: false }
			},
			y: {
				position: 'right', min: -32.5, max: 99.7,
				afterFit: s => { s.width = 161; noScalePadding(s); },
				ticks: { display: false },
				grid: { display: false },
				border: { display: false }
			}
		}
	},
	plugins: [rsiPlugin]
});
</script>
</body>
</html>
